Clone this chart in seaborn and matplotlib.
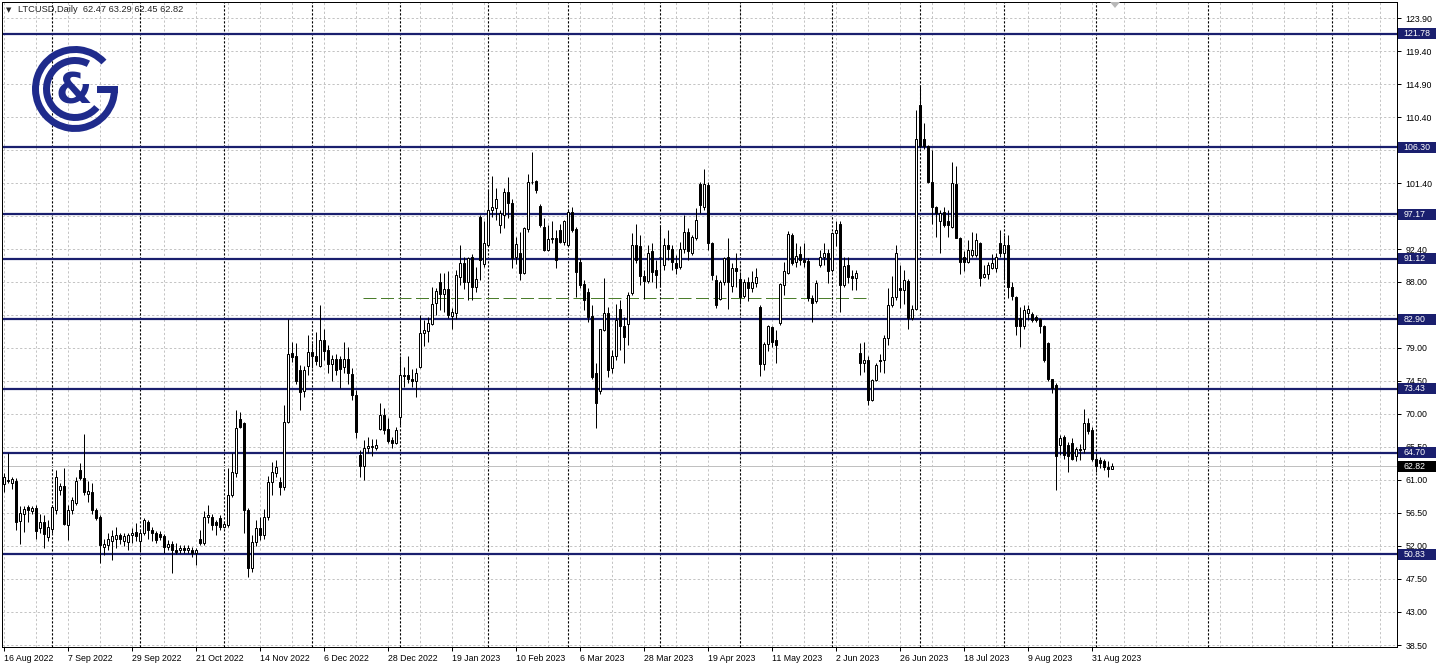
import numpy as np
import pandas as pd
import matplotlib
matplotlib.use("Agg")
import matplotlib.pyplot as plt
import matplotlib.transforms as mtransforms
from matplotlib.patches import Rectangle, Wedge
import seaborn as sns

# ==========================
# data: LTCUSD daily bars (weekdays only)
# ==========================
opens = [60.4, 60.8, 60.5, 60.8, 55.4, 56.4, 57.3, 56.8, 57.1, 54.5, 55.2, 53.2, 54.3, 56.9, 59.6, 60.2,
         54.9, 56.9, 57.8, 62.3, 61.2, 59.1, 59.4, 56.9, 55.9, 51.8, 52.1, 52.7, 52.9, 53.5, 52.7, 52.5,
         53.45, 53.95, 52.6, 53.7, 55.3, 54.1, 53.7, 53.6, 53.3, 51.8, 52.3, 51.45, 51.4, 51.7, 51.4, 51.5,
         51.0, 53.0, 52.4, 56.0, 56.0, 55.2, 55.8, 54.6, 54.85, 58.9, 61.9, 69.3, 68.7, 56.9, 49.0, 52.5,
         54.5, 53.5, 56.0, 60.75, 61.9, 60.75, 60.07, 68.9, 78.3, 77.8, 76.0, 73.1, 76.5, 78.45, 77.8, 76.5,
         80.0, 78.7, 76.8, 77.5, 77.4, 76.3, 77.4, 75.4, 72.55, 64.4, 62.9, 65.3, 65.43, 65.4, 67.9, 69.8,
         67.9, 66.4, 66.0, 69.5, 75.3, 75.3, 74.8, 74.4, 76.3, 80.95, 81.3, 82.2, 85.1, 87.9, 86.3, 86.95,
         83.3, 83.7, 88.6, 90.5, 87.9, 91.4, 87.2, 96.8, 90.4, 93.0, 97.75, 98.0, 95.7, 97.1, 100.2, 98.75,
         91.4, 91.9, 89.2, 95.1, 101.5, 101.7, 98.3, 95.4, 92.3, 93.75, 94.0, 95.0, 93.4, 93.0, 97.5, 95.1,
         90.7, 87.7, 86.6, 83.3, 75.5, 73.1, 81.4, 83.7, 76.2, 77.8, 84.2, 81.95, 82.2, 86.4, 93.0, 92.8,
         88.8, 88.1, 92.1, 89.6, 91.4, 90.3, 93.0, 92.4, 90.5, 90.0, 92.5, 94.7, 91.85, 93.9, 101.3, 98.2,
         101.2, 93.2, 88.2, 85.6, 88.0, 91.4, 87.4, 89.8, 88.4, 86.0, 88.0, 87.1, 87.85, 84.6, 76.8, 79.5,
         81.8, 80.05, 82.3, 87.5, 89.2, 94.3, 90.6, 91.8, 91.0, 90.85, 85.7, 85.3, 90.3, 91.4, 91.85, 89.6,
         94.6, 95.9, 87.5, 90.3, 88.8, 88.45, 78.3, 76.9, 77.35, 71.9, 74.6, 77.3, 77.3, 80.3, 84.8, 85.95,
         87.1, 86.9, 88.1, 83.0, 84.2, 112.0, 107.4, 106.5, 101.6, 98.2, 96.3, 97.5, 96.2, 95.5, 101.3, 93.9,
         91.4, 90.7, 91.6, 91.6, 93.3, 88.6, 89.1, 89.9, 89.9, 93.3, 91.85, 93.0, 87.3, 85.9, 83.0, 81.9,
         83.7, 83.6, 83.2, 82.9, 81.95, 79.7, 74.7, 73.9, 65.75, 66.8, 65.75, 66.0, 64.2, 65.2, 65.2, 68.7,
         67.8, 63.8, 63.7, 63.5, 62.8, 62.47]
highs = [61.9, 64.6, 61.4, 61.2, 57.4, 57.4, 57.6, 57.4, 57.6, 56.4, 56.2, 55.5, 57.6, 62.3, 60.5, 62.6,
         57.6, 58.7, 61.4, 63.3, 67.3, 60.8, 60.5, 57.1, 56.2, 53.0, 53.7, 54.2, 54.6, 53.8, 53.7, 53.8,
         54.4, 55.1, 54.1, 55.8, 55.5, 54.6, 54.0, 54.0, 53.6, 52.8, 52.6, 52.4, 52.1, 52.1, 52.1, 51.9,
         51.7, 54.2, 56.7, 57.6, 56.4, 55.5, 56.2, 55.3, 62.6, 64.6, 70.5, 70.3, 68.9, 57.1, 53.5, 55.5,
         56.0, 57.0, 61.5, 63.47, 63.7, 61.43, 71.2, 82.86, 79.8, 79.6, 76.6, 76.5, 80.7, 79.6, 81.2, 84.8,
         81.6, 79.4, 78.0, 78.2, 77.8, 79.8, 79.1, 76.2, 73.2, 65.1, 66.4, 66.9, 66.5, 66.5, 71.5, 70.75,
         69.4, 66.9, 68.25, 77.8, 76.4, 77.9, 76.1, 76.2, 83.45, 82.7, 83.2, 87.3, 87.1, 89.2, 89.2, 89.4,
         84.4, 89.6, 93.0, 91.3, 91.4, 91.8, 90.0, 97.1, 96.2, 100.5, 102.4, 100.7, 97.75, 100.7, 102.2, 99.3,
         94.1, 94.8, 95.5, 102.7, 105.7, 101.9, 98.6, 96.6, 95.7, 96.2, 95.0, 95.9, 96.4, 97.75, 98.2, 95.4,
         91.2, 88.2, 87.1, 84.8, 76.9, 81.6, 88.45, 84.6, 78.7, 84.95, 85.5, 83.2, 86.6, 94.6, 95.9, 94.35,
         89.6, 93.0, 93.3, 90.9, 95.7, 93.9, 95.0, 93.0, 91.6, 93.4, 97.1, 95.3, 94.35, 98.0, 101.6, 103.3,
         101.6, 93.4, 88.9, 88.2, 91.4, 93.9, 90.5, 91.85, 89.35, 88.4, 88.6, 89.5, 89.8, 84.8, 79.8, 82.1,
         81.95, 81.4, 87.8, 90.7, 94.9, 94.6, 93.2, 92.8, 93.2, 91.2, 86.2, 88.2, 92.3, 93.2, 92.5, 94.8,
         96.2, 96.2, 91.4, 91.3, 89.6, 89.6, 79.7, 79.8, 77.8, 74.8, 76.9, 78.2, 80.7, 87.1, 88.7, 93.0,
         90.3, 89.6, 88.3, 84.8, 111.4, 114.8, 109.6, 106.6, 105.9, 98.3, 97.8, 98.1, 97.8, 104.3, 103.7, 94.1,
         92.1, 93.7, 94.8, 94.6, 93.4, 90.3, 90.7, 91.8, 91.9, 95.0, 94.35, 94.35, 88.0, 86.0, 84.5, 84.8,
         84.8, 83.9, 83.45, 83.1, 82.1, 79.8, 74.8, 74.15, 67.1, 67.1, 66.2, 66.7, 65.5, 65.9, 70.7, 69.4,
         68.25, 64.6, 64.1, 63.8, 63.6, 63.29]
lows = [59.4, 60.6, 59.8, 54.2, 52.3, 53.9, 55.3, 56.4, 53.0, 53.7, 51.7, 52.6, 53.7, 56.4, 58.9, 54.9,
        52.8, 56.4, 57.6, 61.0, 58.9, 58.0, 56.4, 55.5, 49.7, 50.8, 51.5, 50.1, 51.7, 52.3, 52.0, 51.4,
        52.4, 52.6, 51.2, 53.5, 53.0, 52.6, 52.4, 52.8, 51.0, 51.4, 48.3, 50.9, 51.0, 51.0, 51.0, 50.45,
        49.4, 52.1, 52.1, 55.1, 54.2, 53.5, 54.2, 54.4, 54.6, 58.7, 61.4, 68.0, 53.7, 47.8, 48.5, 52.0,
        52.8, 53.0, 55.5, 58.9, 61.43, 58.93, 59.6, 68.7, 77.1, 74.1, 70.5, 72.3, 75.3, 76.2, 76.6, 76.3,
        77.3, 75.5, 74.4, 75.3, 73.5, 75.5, 74.1, 71.9, 66.65, 61.4, 61.0, 64.6, 64.2, 65.1, 67.8, 67.3,
        66.0, 65.4, 65.9, 68.5, 73.7, 74.2, 73.7, 72.3, 76.2, 79.2, 79.8, 82.1, 83.45, 84.1, 83.8, 83.1,
        81.6, 82.9, 87.5, 86.95, 85.5, 85.5, 86.6, 88.2, 90.0, 92.85, 96.8, 96.4, 94.6, 95.25, 96.6, 89.8,
        90.4, 88.2, 89.1, 94.8, 101.3, 100.0, 95.5, 92.1, 92.1, 93.2, 89.8, 93.2, 93.0, 92.85, 94.8, 85.95,
        87.1, 84.1, 82.5, 74.8, 68.0, 72.7, 81.3, 75.05, 75.5, 77.3, 78.7, 76.9, 79.4, 86.2, 90.5, 87.5,
        85.6, 87.8, 88.0, 87.1, 87.3, 89.6, 90.9, 89.6, 89.1, 89.7, 91.85, 90.9, 91.6, 93.7, 97.3, 97.75,
        92.3, 88.2, 84.4, 85.5, 87.5, 84.2, 86.6, 87.3, 85.0, 85.7, 85.3, 86.6, 87.3, 75.1, 75.9, 78.5,
        79.1, 76.9, 82.1, 86.2, 89.0, 90.3, 90.0, 90.3, 90.0, 85.3, 82.5, 85.1, 90.0, 90.3, 87.8, 89.35,
        92.8, 83.9, 87.2, 87.8, 86.9, 86.9, 75.3, 75.7, 71.2, 71.7, 74.4, 75.7, 75.6, 79.4, 84.6, 85.5,
        84.4, 85.0, 81.6, 82.7, 84.1, 106.15, 106.0, 101.4, 95.9, 94.1, 91.9, 95.5, 94.1, 95.3, 93.9, 89.1,
        89.4, 90.5, 91.4, 91.4, 87.4, 88.45, 88.3, 89.7, 89.35, 91.4, 88.2, 85.7, 85.5, 80.7, 79.1, 81.6,
        82.8, 82.55, 82.55, 81.0, 77.1, 74.5, 72.8, 59.6, 64.4, 63.9, 62.1, 63.7, 63.5, 63.7, 64.6, 67.3,
        63.6, 62.1, 62.6, 62.4, 61.4, 62.45]
closes = [61.4, 61.0, 61.1, 55.2, 56.5, 57.0, 56.9, 57.1, 54.0, 55.2, 53.6, 54.6, 57.3, 61.4, 60.1, 55.0,
          56.9, 58.3, 60.8, 61.3, 59.3, 59.5, 56.9, 55.8, 52.1, 52.2, 53.0, 53.3, 53.5, 52.9, 53.3, 53.5,
          53.8, 53.3, 53.8, 55.5, 54.2, 53.7, 52.8, 53.2, 51.8, 52.3, 51.4, 51.2, 51.7, 51.45, 51.7, 51.0,
          51.5, 52.4, 56.0, 56.2, 54.85, 54.85, 54.6, 55.0, 58.9, 62.1, 68.0, 68.2, 56.9, 49.0, 52.5, 54.5,
          53.5, 56.0, 60.75, 62.11, 62.79, 60.07, 68.9, 78.1, 77.7, 74.5, 73.0, 76.0, 78.45, 77.8, 77.2, 80.0,
          78.5, 76.8, 77.5, 76.0, 76.05, 77.5, 75.5, 72.55, 67.56, 62.9, 65.3, 65.6, 65.6, 65.75, 69.8, 67.8,
          66.3, 66.0, 67.8, 75.3, 75.15, 74.8, 74.4, 75.5, 81.05, 81.4, 82.3, 85.0, 86.7, 86.3, 86.95, 83.45,
          83.8, 88.9, 90.5, 88.0, 91.2, 87.2, 88.3, 90.9, 93.2, 97.8, 98.2, 99.3, 97.3, 100.2, 98.75, 91.2,
          93.1, 89.2, 95.25, 101.5, 101.6, 100.5, 95.7, 92.3, 93.75, 94.0, 91.0, 93.4, 96.2, 97.5, 95.0, 89.35,
          87.5, 85.5, 83.2, 75.05, 71.4, 81.5, 83.7, 76.0, 77.8, 82.8, 81.9, 80.5, 86.2, 93.0, 90.9, 88.7,
          88.1, 91.9, 89.35, 88.9, 91.3, 93.0, 92.4, 90.7, 89.9, 92.5, 94.8, 92.1, 94.1, 96.4, 98.4, 101.3,
          93.2, 88.9, 84.8, 88.0, 91.2, 88.0, 89.8, 89.5, 85.95, 88.0, 87.1, 88.0, 88.6, 76.8, 79.5, 81.9,
          79.8, 79.4, 87.7, 89.5, 94.5, 90.5, 91.5, 90.9, 90.7, 85.7, 85.1, 87.85, 91.3, 91.9, 89.5, 94.6,
          95.0, 87.5, 90.1, 88.6, 88.45, 89.2, 76.9, 77.35, 71.9, 74.6, 76.65, 77.2, 80.3, 84.8, 85.95, 91.85,
          86.9, 88.2, 83.0, 84.2, 107.4, 106.4, 106.5, 101.5, 98.2, 97.3, 97.3, 95.7, 95.7, 101.4, 93.9, 90.7,
          90.7, 92.3, 92.3, 93.7, 88.45, 89.0, 90.3, 90.5, 91.3, 91.85, 93.0, 87.3, 86.0, 81.9, 81.9, 84.1,
          84.2, 82.8, 82.7, 81.9, 77.3, 74.7, 73.5, 64.2, 66.7, 64.4, 64.2, 63.9, 65.2, 65.0, 68.7, 67.6,
          63.8, 62.9, 63.25, 62.7, 62.45, 62.82]

date_labels = ["16 Aug 2022", "7 Sep 2022", "29 Sep 2022", "21 Oct 2022", "14 Nov 2022", "6 Dec 2022",
               "28 Dec 2022", "19 Jan 2023", "10 Feb 2023", "6 Mar 2023", "28 Mar 2023", "19 Apr 2023",
               "11 May 2023", "2 Jun 2023", "26 Jun 2023", "18 Jul 2023", "9 Aug 2023", "31 Aug 2023"]
price_ticks = [123.90, 119.40, 114.90, 110.40, 105.90, 101.40, 96.90, 92.40, 88.00, 83.50,
               79.00, 74.50, 70.00, 65.50, 61.00, 56.50, 52.00, 47.50, 43.00, 38.50]
# tick values that sit fully behind a level label in the reference
hidden_ticks = [105.90, 96.90, 83.50]
levels = [121.78, 106.30, 97.17, 91.12, 82.90, 73.43, 64.70, 50.83]
last_price = 62.82
green_level = 85.7
header = "LTCUSD,Daily  62.47 63.29 62.45 62.82"

# ==========================
# style
# ==========================
sns.set_theme(style="white")
plt.rcParams['font.family'] = ['Liberation Sans', 'DejaVu Sans']

W, H = 1438, 670
fig = plt.figure(figsize=(W / 100, H / 100), dpi=100)
fig.patch.set_facecolor("white")
ax = fig.add_axes([2 / W, 23 / H, 1395 / W, 645 / H])
ax.set_facecolor("white")

navy = "#1a1f6e"
logo_col = "#1f2b8c"
grid_col = "#c4c4c4"
px = 0.72  # one pixel in points

n = len(closes)
x = np.arange(n)
o, h, l, c = map(np.array, (opens, highs, lows, closes))
ax.set_xlim(-0.575, 348.175)
ax.set_ylim(38.23, 126.08)

# grid: grey dashes every 8 bars and on every price tick
for gx in range(0, 349, 8):
    ax.axvline(gx, color=grid_col, lw=px, ls=(0, (2.2, 2.2)), zorder=0)
for gy in price_ticks:
    ax.axhline(gy, color=grid_col, lw=px, ls=(0, (2.2, 2.2)), zorder=0)

# monthly separators (black dotted)
dates = pd.bdate_range("2022-08-16", periods=n)
month_start = [i for i in range(1, n) if dates[i].month != dates[i - 1].month]
future = pd.date_range(dates[-1] + pd.Timedelta(days=1), periods=80, freq="D")
for k, d in enumerate(future):
    if d.day == 1:
        month_start.append(n + k)
for mx in month_start:
    ax.axvline(mx, color="black", lw=0.8, ls=(0, (2.0, 1.6)), zorder=0.5)

# bid line
ax.axhline(last_price, color="#c0c0c0", lw=px, zorder=0.6)

# support / resistance levels
for lv in levels:
    ax.axhline(lv, color=navy, lw=1.6, zorder=1)

# green dashed line
gdf = pd.DataFrame({"bar": [89.7, 216.4], "price": [green_level, green_level]})
sns.lineplot(data=gdf, x="bar", y="price", ax=ax, color="#4b7d2b", lw=px,
             linestyle=(0, (13, 4.5)), zorder=1.5)

# candles
ax.vlines(x, l, h, color="black", lw=px, zorder=3)
body_low = np.minimum(o, c)
body_h = np.maximum(np.abs(c - o), 0.1)
up = c >= o
ax.bar(x[up], body_h[up], bottom=body_low[up], width=0.5, color="white",
       edgecolor="black", linewidth=px, zorder=4)
ax.bar(x[~up], body_h[~up], bottom=body_low[~up], width=0.5, color="black",
       edgecolor="black", linewidth=px, zorder=4)

# axes frame and ticks
for s in ax.spines.values():
    s.set_color("black")
    s.set_linewidth(px)
ax.yaxis.tick_right()
ax.set_yticks(price_ticks)
ax.set_yticklabels(["" if v in hidden_ticks else f"{v:.2f}" for v in price_ticks])
ax.set_xticks(np.arange(len(date_labels)) * 16)
ax.set_xticklabels(date_labels, ha="left")
ax.tick_params(axis="y", direction="out", length=3, width=px, pad=3,
               labelsize=6.3, colors="black", right=True, left=False)
ax.tick_params(axis="x", direction="out", length=3, width=px, pad=2,
               labelsize=6.3, colors="black", bottom=True)
ax.set_xlabel("")
ax.set_ylabel("")
ax.grid(False)

# price labels on the right axis
trans = mtransforms.blended_transform_factory(ax.transAxes, ax.transData)
box_h = 11 / 7.342
for lv, fc in [(v, navy) for v in levels] + [(last_price, "black")]:
    ax.add_patch(Rectangle((1.0007, lv - box_h / 2), 0.0275, box_h, transform=trans,
                           facecolor=fc, edgecolor="none", clip_on=False, zorder=10))
    ax.text(1.0045, lv, f"{lv:.2f}", transform=trans, color="white", fontsize=6.3,
            va="center", ha="left", clip_on=False, zorder=11)

# overlay for header, logo and shift marker (pixel coordinates, y up)
ov = fig.add_axes([0, 0, 1, 1], zorder=20)
ov.set_xlim(0, W)
ov.set_ylim(0, H)
ov.axis("off")
ov.patch.set_alpha(0)

ov.text(6, H - 10, "\u25bc", fontsize=5, va="center", ha="left", family="DejaVu Sans")
ov.text(18, H - 10, header, fontsize=6.7, va="center", ha="left")
ov.fill([1110, 1120, 1115], [H - 2, H - 2, H - 8], color="#b8b8b8", lw=0)

cx, cy = 75, H - 89
ov.add_patch(Wedge((cx, cy), 43, 43, 360, width=7, color=logo_col, lw=0))
ov.add_patch(Rectangle((cx + 22, cy - 3.5), 21, 7, color=logo_col, lw=0))
ov.add_patch(Wedge((cx, cy), 32, 62, 320, width=7, color=logo_col, lw=0))
ov.text(cx - 1, cy - 2, "&", fontsize=30, fontweight="bold", color=logo_col,
        va="center", ha="center", family="DejaVu Sans")

fig.savefig("out.png", dpi=100, facecolor="white")
